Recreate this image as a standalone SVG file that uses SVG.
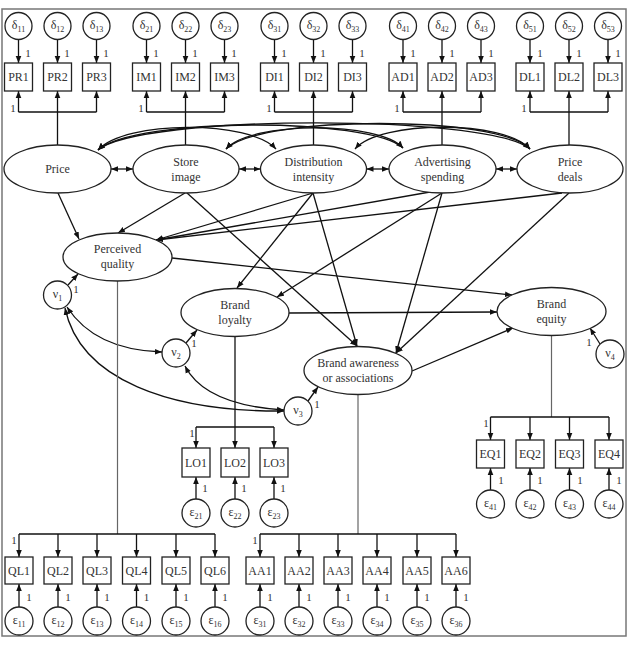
<svg xmlns="http://www.w3.org/2000/svg" width="633" height="646" viewBox="0 0 633 646">
<defs>
<marker id="ah" viewBox="0 0 10 10" refX="10" refY="5" markerWidth="7" markerHeight="7" markerUnits="userSpaceOnUse" orient="auto-start-reverse"><path d="M0,1 L10,5 L0,9 z" fill="#111"/></marker>
<style>
text{font-family:"Liberation Serif","Times New Roman",serif;fill:#333;}
.lbl{font-size:12px;text-anchor:middle;}
.one{font-size:11px;text-anchor:middle;}
.sub{font-size:8px;}
.nd{fill:#fff;stroke:#222;stroke-width:1.3;}
.ln{fill:none;stroke:#111;stroke-width:1.3;}
.ar{fill:none;stroke:#111;stroke-width:1.3;marker-end:url(#ah);}
.dar{fill:none;stroke:#111;stroke-width:1.3;marker-start:url(#ah);marker-end:url(#ah);}
.gr{fill:none;stroke:#666;stroke-width:1.2;}
</style>
</defs>
<rect x="2" y="9" width="624" height="627" fill="#fff" stroke="#777" stroke-width="1.5"/>

<g id="connectors">
<!-- top indicator arrows -->
<g>
<path class="ar" d="M18.5,39.5V63"/><path class="ar" d="M57.5,39.5V63"/><path class="ar" d="M96.5,39.5V63"/>
<path class="ar" d="M146.5,39.5V63"/><path class="ar" d="M185.5,39.5V63"/><path class="ar" d="M224.5,39.5V63"/>
<path class="ar" d="M274.5,39.5V63"/><path class="ar" d="M313.5,39.5V63"/><path class="ar" d="M352.5,39.5V63"/>
<path class="ar" d="M403,39.5V63"/><path class="ar" d="M442,39.5V63"/><path class="ar" d="M481,39.5V63"/>
<path class="ar" d="M530,39.5V63"/><path class="ar" d="M569,39.5V63"/><path class="ar" d="M608,39.5V63"/>
</g>
<!-- top brackets -->
<g>
<path class="ln" d="M18.5,112H96.5"/><path class="ar" d="M18.5,112V91"/><path class="ar" d="M96.5,112V91"/><path class="ar" d="M57.5,145V91"/>
<path class="ln" d="M146.5,112H224.5"/><path class="ar" d="M146.5,112V91"/><path class="ar" d="M224.5,112V91"/><path class="ar" d="M185.5,145V91"/>
<path class="ln" d="M274.5,112H352.5"/><path class="ar" d="M274.5,112V91"/><path class="ar" d="M352.5,112V91"/><path class="ar" d="M313.5,145V91"/>
<path class="ln" d="M403,112H481"/><path class="ar" d="M403,112V91"/><path class="ar" d="M481,112V91"/><path class="ar" d="M442,145V91"/>
<path class="ln" d="M530,112H608"/><path class="ar" d="M530,112V91"/><path class="ar" d="M608,112V91"/><path class="ar" d="M569,145V91"/>
</g>
<!-- correlations -->
<g>
<path class="dar" d="M111,169H133"/>
<path class="dar" d="M239,169H260.5"/>
<path class="dar" d="M366.5,169H389"/>
<path class="dar" d="M496,169H517"/>
<path class="dar" d="M98,150C125,120 250,120 276,149"/>
<path class="dar" d="M98,150C135,117 370,117 403,148"/>
<path class="dar" d="M98,150C140,114 490,114 530,149"/>
<path class="dar" d="M226,149C250,121 380,121 403,148"/>
<path class="dar" d="M226,149C260,115 500,115 530,149"/>
<path class="dar" d="M355,149C380,120 505,120 530,149"/>
</g>
<!-- structural paths -->
<g>
<path class="ar" d="M58,193L79,239"/>
<path class="ar" d="M185,193L118,233"/>
<path class="ar" d="M313,193L156,240"/>
<path class="ar" d="M430,192L156,240"/>
<path class="ar" d="M562,193L156,240"/>
<path class="ar" d="M187,193L357,346"/>
<path class="ar" d="M313,193L237,288"/>
<path class="ar" d="M313,193L357,346"/>
<path class="ar" d="M442,193L277,297"/>
<path class="ar" d="M442,193L396,353"/>
<path class="ar" d="M569,193L396,353"/>
<path class="ar" d="M172,258L512,295"/>
<path class="ar" d="M289,313L497,312"/>
<path class="ar" d="M412,371L513,328"/>
</g>
<!-- disturbances -->
<g>
<path class="ar" d="M68,285L78,274"/>
<path class="ar" d="M186,343L197,330"/>
<path class="ar" d="M308,401L318,387"/>
<path class="ar" d="M600,344L590,328"/>
<path class="dar" d="M67,307Q95,350 162,352"/>
<path class="dar" d="M65,308C80,380 170,412 284,411"/>
<path class="dar" d="M185,366Q205,405 284,410"/>
</g>
<!-- bottom measurement -->
<g>
<path class="gr" d="M117.5,281V534"/>
<path class="ln" d="M19,534H215"/>
<path class="ar" d="M19,534V557"/><path class="ar" d="M58,534V557"/><path class="ar" d="M97,534V557"/><path class="ar" d="M136.5,534V557"/><path class="ar" d="M176,534V557"/><path class="ar" d="M215,534V557"/>
<path class="gr" d="M358,394.5V534"/>
<path class="ln" d="M260,534H456"/>
<path class="ar" d="M260,534V557"/><path class="ar" d="M299,534V557"/><path class="ar" d="M338,534V557"/><path class="ar" d="M377,534V557"/><path class="ar" d="M417,534V557"/><path class="ar" d="M456,534V557"/>
<path class="ar" d="M235,336.5V448"/>
<path class="ln" d="M196,427H274"/>
<path class="ar" d="M196,427V448"/><path class="ar" d="M274,427V448"/>
<path class="gr" d="M551.5,335.5V417"/>
<path class="ln" d="M490.5,417H609"/>
<path class="ar" d="M490.5,417V440"/><path class="ar" d="M530,417V440"/><path class="ar" d="M569.5,417V440"/><path class="ar" d="M609,417V440"/>
<path class="ar" d="M19,607V584"/><path class="ar" d="M58,607V584"/><path class="ar" d="M97,607V584"/><path class="ar" d="M136.5,607V584"/><path class="ar" d="M176,607V584"/><path class="ar" d="M215,607V584"/>
<path class="ar" d="M260,607V584"/><path class="ar" d="M299,607V584"/><path class="ar" d="M338,607V584"/><path class="ar" d="M377,607V584"/><path class="ar" d="M417,607V584"/><path class="ar" d="M456,607V584"/>
<path class="ar" d="M196,499V477"/><path class="ar" d="M235,499V477"/><path class="ar" d="M274,499V477"/>
<path class="ar" d="M490.5,490V468"/><path class="ar" d="M530,490V468"/><path class="ar" d="M569.5,490V468"/><path class="ar" d="M609,490V468"/>
</g>
<!-- loading labels -->
<g>
<text class="one" x="28" y="57">1</text><text class="one" x="67" y="57">1</text><text class="one" x="106" y="57">1</text>
<text class="one" x="156" y="57">1</text><text class="one" x="195" y="57">1</text><text class="one" x="234" y="57">1</text>
<text class="one" x="284" y="57">1</text><text class="one" x="323" y="57">1</text><text class="one" x="362" y="57">1</text>
<text class="one" x="413" y="57">1</text><text class="one" x="452" y="57">1</text><text class="one" x="491" y="57">1</text>
<text class="one" x="540" y="57">1</text><text class="one" x="579" y="57">1</text><text class="one" x="618" y="57">1</text>
<text class="one" x="13" y="112">1</text><text class="one" x="141" y="112">1</text><text class="one" x="269" y="112">1</text><text class="one" x="397" y="112">1</text><text class="one" x="524" y="112">1</text>
<text class="one" x="76" y="293">1</text><text class="one" x="194" y="347">1</text><text class="one" x="317" y="408">1</text><text class="one" x="589" y="346">1</text>
<text class="one" x="14" y="544">1</text><text class="one" x="255" y="544">1</text><text class="one" x="192" y="437">1</text><text class="one" x="486" y="427">1</text>
<text class="one" x="29" y="601">1</text><text class="one" x="68" y="601">1</text><text class="one" x="107" y="601">1</text><text class="one" x="146.5" y="601">1</text><text class="one" x="186" y="601">1</text><text class="one" x="225" y="601">1</text>
<text class="one" x="270" y="601">1</text><text class="one" x="309" y="601">1</text><text class="one" x="348" y="601">1</text><text class="one" x="387" y="601">1</text><text class="one" x="427" y="601">1</text><text class="one" x="466" y="601">1</text>
<text class="one" x="205" y="492">1</text><text class="one" x="244" y="492">1</text><text class="one" x="283" y="492">1</text>
<text class="one" x="501" y="484">1</text><text class="one" x="540" y="484">1</text><text class="one" x="580" y="484">1</text><text class="one" x="619" y="484">1</text>
</g>
</g>

<!-- top error terms -->
<g id="d11"><circle class="nd" cx="18.5" cy="26" r="13.5"/><text class="lbl" x="18.5" y="29">δ<tspan class="sub" dy="3">11</tspan></text></g>
<g id="d12"><circle class="nd" cx="57.5" cy="26" r="13.5"/><text class="lbl" x="57.5" y="29">δ<tspan class="sub" dy="3">12</tspan></text></g>
<g id="d13"><circle class="nd" cx="96.5" cy="26" r="13.5"/><text class="lbl" x="96.5" y="29">δ<tspan class="sub" dy="3">13</tspan></text></g>
<g id="d21"><circle class="nd" cx="146.5" cy="26" r="13.5"/><text class="lbl" x="146.5" y="29">δ<tspan class="sub" dy="3">21</tspan></text></g>
<g id="d22"><circle class="nd" cx="185.5" cy="26" r="13.5"/><text class="lbl" x="185.5" y="29">δ<tspan class="sub" dy="3">22</tspan></text></g>
<g id="d23"><circle class="nd" cx="224.5" cy="26" r="13.5"/><text class="lbl" x="224.5" y="29">δ<tspan class="sub" dy="3">23</tspan></text></g>
<g id="d31"><circle class="nd" cx="274.5" cy="26" r="13.5"/><text class="lbl" x="274.5" y="29">δ<tspan class="sub" dy="3">31</tspan></text></g>
<g id="d32"><circle class="nd" cx="313.5" cy="26" r="13.5"/><text class="lbl" x="313.5" y="29">δ<tspan class="sub" dy="3">32</tspan></text></g>
<g id="d33"><circle class="nd" cx="352.5" cy="26" r="13.5"/><text class="lbl" x="352.5" y="29">δ<tspan class="sub" dy="3">33</tspan></text></g>
<g id="d41"><circle class="nd" cx="403" cy="26" r="13.5"/><text class="lbl" x="403" y="29">δ<tspan class="sub" dy="3">41</tspan></text></g>
<g id="d42"><circle class="nd" cx="442" cy="26" r="13.5"/><text class="lbl" x="442" y="29">δ<tspan class="sub" dy="3">42</tspan></text></g>
<g id="d43"><circle class="nd" cx="481" cy="26" r="13.5"/><text class="lbl" x="481" y="29">δ<tspan class="sub" dy="3">43</tspan></text></g>
<g id="d51"><circle class="nd" cx="530" cy="26" r="13.5"/><text class="lbl" x="530" y="29">δ<tspan class="sub" dy="3">51</tspan></text></g>
<g id="d52"><circle class="nd" cx="569" cy="26" r="13.5"/><text class="lbl" x="569" y="29">δ<tspan class="sub" dy="3">52</tspan></text></g>
<g id="d53"><circle class="nd" cx="608" cy="26" r="13.5"/><text class="lbl" x="608" y="29">δ<tspan class="sub" dy="3">53</tspan></text></g>

<!-- top indicators -->
<g id="PR1"><rect class="nd" x="4.5" y="63" width="28" height="28"/><text class="lbl" x="18.5" y="81">PR1</text></g>
<g id="PR2"><rect class="nd" x="43.5" y="63" width="28" height="28"/><text class="lbl" x="57.5" y="81">PR2</text></g>
<g id="PR3"><rect class="nd" x="82.5" y="63" width="28" height="28"/><text class="lbl" x="96.5" y="81">PR3</text></g>
<g id="IM1"><rect class="nd" x="132.5" y="63" width="28" height="28"/><text class="lbl" x="146.5" y="81">IM1</text></g>
<g id="IM2"><rect class="nd" x="171.5" y="63" width="28" height="28"/><text class="lbl" x="185.5" y="81">IM2</text></g>
<g id="IM3"><rect class="nd" x="210.5" y="63" width="28" height="28"/><text class="lbl" x="224.5" y="81">IM3</text></g>
<g id="DI1"><rect class="nd" x="260.5" y="63" width="28" height="28"/><text class="lbl" x="274.5" y="81">DI1</text></g>
<g id="DI2"><rect class="nd" x="299.5" y="63" width="28" height="28"/><text class="lbl" x="313.5" y="81">DI2</text></g>
<g id="DI3"><rect class="nd" x="338.5" y="63" width="28" height="28"/><text class="lbl" x="352.5" y="81">DI3</text></g>
<g id="AD1"><rect class="nd" x="389" y="63" width="28" height="28"/><text class="lbl" x="403" y="81">AD1</text></g>
<g id="AD2"><rect class="nd" x="428" y="63" width="28" height="28"/><text class="lbl" x="442" y="81">AD2</text></g>
<g id="AD3"><rect class="nd" x="467" y="63" width="28" height="28"/><text class="lbl" x="481" y="81">AD3</text></g>
<g id="DL1"><rect class="nd" x="516" y="63" width="28" height="28"/><text class="lbl" x="530" y="81">DL1</text></g>
<g id="DL2"><rect class="nd" x="555" y="63" width="28" height="28"/><text class="lbl" x="569" y="81">DL2</text></g>
<g id="DL3"><rect class="nd" x="594" y="63" width="28" height="28"/><text class="lbl" x="608" y="81">DL3</text></g>

<!-- latent variables -->
<g id="price"><ellipse class="nd" cx="57.5" cy="169" rx="53.5" ry="24"/><text class="lbl" x="57.5" y="173">Price</text></g>
<g id="store"><ellipse class="nd" cx="186" cy="169" rx="53" ry="24"/><text class="lbl" x="186" y="166">Store</text><text class="lbl" x="186" y="181">image</text></g>
<g id="dist"><ellipse class="nd" cx="313.5" cy="169" rx="53" ry="24"/><text class="lbl" x="313.5" y="166">Distribution</text><text class="lbl" x="313.5" y="181">intensity</text></g>
<g id="adv"><ellipse class="nd" cx="442.5" cy="169" rx="53.5" ry="24"/><text class="lbl" x="442.5" y="166">Advertising</text><text class="lbl" x="442.5" y="181">spending</text></g>
<g id="deals"><ellipse class="nd" cx="570" cy="169" rx="53" ry="24"/><text class="lbl" x="570" y="166">Price</text><text class="lbl" x="570" y="181">deals</text></g>
<g id="pq"><ellipse class="nd" cx="117.5" cy="257" rx="54.5" ry="24"/><text class="lbl" x="117.5" y="253">Perceived</text><text class="lbl" x="117.5" y="268">quality</text></g>
<g id="bl"><ellipse class="nd" cx="235" cy="312.5" rx="54" ry="24"/><text class="lbl" x="235" y="308.5">Brand</text><text class="lbl" x="235" y="323.5">loyalty</text></g>
<g id="ba"><ellipse class="nd" cx="358" cy="370.5" rx="54" ry="24"/><text class="lbl" x="358" y="366.5">Brand awareness</text><text class="lbl" x="358" y="381.5">or associations</text></g>
<g id="be"><ellipse class="nd" cx="551.5" cy="311.5" rx="54.5" ry="24"/><text class="lbl" x="551.5" y="307.5">Brand</text><text class="lbl" x="551.5" y="322.5">equity</text></g>

<!-- disturbances -->
<g id="v1"><circle class="nd" cx="57.5" cy="295" r="14"/><text class="lbl" x="57.5" y="298">ν<tspan class="sub" dy="3">1</tspan></text></g>
<g id="v2"><circle class="nd" cx="176" cy="353" r="14"/><text class="lbl" x="176" y="356">ν<tspan class="sub" dy="3">2</tspan></text></g>
<g id="v3"><circle class="nd" cx="298" cy="411" r="14"/><text class="lbl" x="298" y="414">ν<tspan class="sub" dy="3">3</tspan></text></g>
<g id="v4"><circle class="nd" cx="610" cy="354" r="14"/><text class="lbl" x="610" y="357">ν<tspan class="sub" dy="3">4</tspan></text></g>

<!-- loyalty indicators -->
<g id="LO1"><rect class="nd" x="182" y="448" width="28" height="29"/><text class="lbl" x="196" y="467">LO1</text></g>
<g id="LO2"><rect class="nd" x="221" y="448" width="28" height="29"/><text class="lbl" x="235" y="467">LO2</text></g>
<g id="LO3"><rect class="nd" x="260" y="448" width="28" height="29"/><text class="lbl" x="274" y="467">LO3</text></g>
<g id="e21"><circle class="nd" cx="196" cy="513" r="14"/><text class="lbl" x="196" y="516">ε<tspan class="sub" dy="3">21</tspan></text></g>
<g id="e22"><circle class="nd" cx="235" cy="513" r="14"/><text class="lbl" x="235" y="516">ε<tspan class="sub" dy="3">22</tspan></text></g>
<g id="e23"><circle class="nd" cx="274" cy="513" r="14"/><text class="lbl" x="274" y="516">ε<tspan class="sub" dy="3">23</tspan></text></g>

<!-- equity indicators -->
<g id="EQ1"><rect class="nd" x="476.5" y="440" width="28" height="28"/><text class="lbl" x="490.5" y="458">EQ1</text></g>
<g id="EQ2"><rect class="nd" x="516" y="440" width="28" height="28"/><text class="lbl" x="530" y="458">EQ2</text></g>
<g id="EQ3"><rect class="nd" x="555.5" y="440" width="28" height="28"/><text class="lbl" x="569.5" y="458">EQ3</text></g>
<g id="EQ4"><rect class="nd" x="595" y="440" width="28" height="28"/><text class="lbl" x="609" y="458">EQ4</text></g>
<g id="e41"><circle class="nd" cx="490.5" cy="504" r="14"/><text class="lbl" x="490.5" y="507">ε<tspan class="sub" dy="3">41</tspan></text></g>
<g id="e42"><circle class="nd" cx="530" cy="504" r="14"/><text class="lbl" x="530" y="507">ε<tspan class="sub" dy="3">42</tspan></text></g>
<g id="e43"><circle class="nd" cx="569.5" cy="504" r="14"/><text class="lbl" x="569.5" y="507">ε<tspan class="sub" dy="3">43</tspan></text></g>
<g id="e44"><circle class="nd" cx="609" cy="504" r="14"/><text class="lbl" x="609" y="507">ε<tspan class="sub" dy="3">44</tspan></text></g>

<!-- quality indicators -->
<g id="QL1"><rect class="nd" x="5" y="557" width="28" height="27"/><text class="lbl" x="19" y="575">QL1</text></g>
<g id="QL2"><rect class="nd" x="44" y="557" width="28" height="27"/><text class="lbl" x="58" y="575">QL2</text></g>
<g id="QL3"><rect class="nd" x="83" y="557" width="28" height="27"/><text class="lbl" x="97" y="575">QL3</text></g>
<g id="QL4"><rect class="nd" x="122.5" y="557" width="28" height="27"/><text class="lbl" x="136.5" y="575">QL4</text></g>
<g id="QL5"><rect class="nd" x="162" y="557" width="28" height="27"/><text class="lbl" x="176" y="575">QL5</text></g>
<g id="QL6"><rect class="nd" x="201" y="557" width="28" height="27"/><text class="lbl" x="215" y="575">QL6</text></g>
<g id="e11"><circle class="nd" cx="19" cy="621" r="14"/><text class="lbl" x="19" y="624">ε<tspan class="sub" dy="3">11</tspan></text></g>
<g id="e12"><circle class="nd" cx="58" cy="621" r="14"/><text class="lbl" x="58" y="624">ε<tspan class="sub" dy="3">12</tspan></text></g>
<g id="e13"><circle class="nd" cx="97" cy="621" r="14"/><text class="lbl" x="97" y="624">ε<tspan class="sub" dy="3">13</tspan></text></g>
<g id="e14"><circle class="nd" cx="136.5" cy="621" r="14"/><text class="lbl" x="136.5" y="624">ε<tspan class="sub" dy="3">14</tspan></text></g>
<g id="e15"><circle class="nd" cx="176" cy="621" r="14"/><text class="lbl" x="176" y="624">ε<tspan class="sub" dy="3">15</tspan></text></g>
<g id="e16"><circle class="nd" cx="215" cy="621" r="14"/><text class="lbl" x="215" y="624">ε<tspan class="sub" dy="3">16</tspan></text></g>

<!-- awareness indicators -->
<g id="AA1"><rect class="nd" x="246" y="557" width="28" height="27"/><text class="lbl" x="260" y="575">AA1</text></g>
<g id="AA2"><rect class="nd" x="285" y="557" width="28" height="27"/><text class="lbl" x="299" y="575">AA2</text></g>
<g id="AA3"><rect class="nd" x="324" y="557" width="28" height="27"/><text class="lbl" x="338" y="575">AA3</text></g>
<g id="AA4"><rect class="nd" x="363" y="557" width="28" height="27"/><text class="lbl" x="377" y="575">AA4</text></g>
<g id="AA5"><rect class="nd" x="403" y="557" width="28" height="27"/><text class="lbl" x="417" y="575">AA5</text></g>
<g id="AA6"><rect class="nd" x="442" y="557" width="28" height="27"/><text class="lbl" x="456" y="575">AA6</text></g>
<g id="e31"><circle class="nd" cx="260" cy="621" r="14"/><text class="lbl" x="260" y="624">ε<tspan class="sub" dy="3">31</tspan></text></g>
<g id="e32"><circle class="nd" cx="299" cy="621" r="14"/><text class="lbl" x="299" y="624">ε<tspan class="sub" dy="3">32</tspan></text></g>
<g id="e33"><circle class="nd" cx="338" cy="621" r="14"/><text class="lbl" x="338" y="624">ε<tspan class="sub" dy="3">33</tspan></text></g>
<g id="e34"><circle class="nd" cx="377" cy="621" r="14"/><text class="lbl" x="377" y="624">ε<tspan class="sub" dy="3">34</tspan></text></g>
<g id="e35"><circle class="nd" cx="417" cy="621" r="14"/><text class="lbl" x="417" y="624">ε<tspan class="sub" dy="3">35</tspan></text></g>
<g id="e36"><circle class="nd" cx="456" cy="621" r="14"/><text class="lbl" x="456" y="624">ε<tspan class="sub" dy="3">36</tspan></text></g>
</svg>
